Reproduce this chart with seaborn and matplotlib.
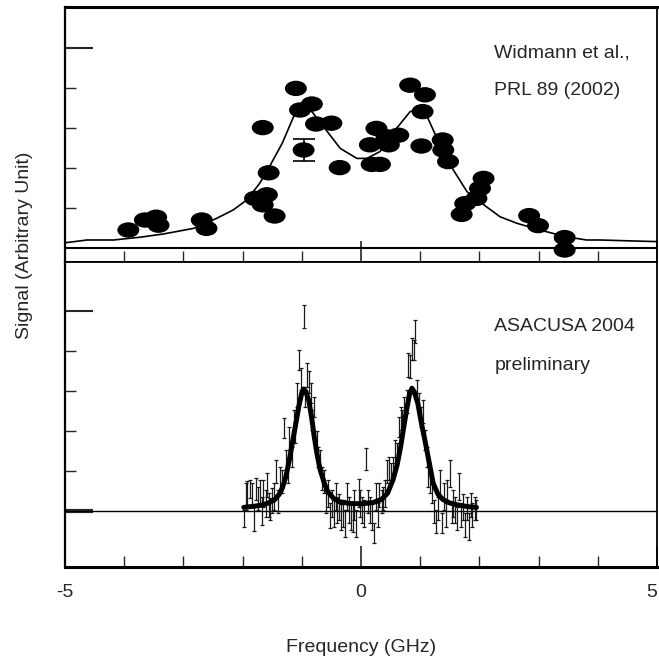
import matplotlib
matplotlib.use("Agg")
import matplotlib.pyplot as plt
from matplotlib.path import Path
from matplotlib.transforms import Affine2D
from matplotlib.ticker import FixedLocator
import seaborn as sns

sns.set_style("ticks")
plt.rcParams["font.family"] = ["Liberation Sans", "DejaVu Sans"]
plt.rcParams["axes.unicode_minus"] = False

# ---- Upper panel: Widmann et al., PRL 89 (2002) ----
prl_freq = [-3.93, -3.65, -3.46, -3.42, -2.69, -2.61, -1.79, -1.59, -1.66, -1.46,
            -1.56, -1.66, -1.10, -1.03, -0.83, -0.76, -0.50, -0.36, -0.97,
            0.26, 0.15, 0.43, 0.47, 0.63, 0.18, 0.32, 0.83, 1.08, 1.04, 1.02,
            1.38, 1.39, 1.47, 2.07, 2.01, 1.95, 1.76, 1.70, 2.84, 2.99, 3.44, 3.44]
prl_signal = [0.45, 0.70, 0.77, 0.57, 0.70, 0.49, 1.24, 1.33, 1.08, 0.80,
              1.88, 3.01, 3.99, 3.45, 3.60, 3.10, 3.12, 2.01, 2.45,
              2.99, 2.58, 2.78, 2.58, 2.82, 2.09, 2.09, 4.07, 3.83, 3.41, 2.55,
              2.70, 2.45, 2.16, 1.74, 1.49, 1.24, 1.11, 0.84, 0.81, 0.56, 0.26, -0.05]

# typical error of the 2002 points
prl_err_freq = [-0.97]
prl_err_signal = [2.45]
prl_err = [0.28]

prl_fit_freq = [-5.0, -4.63, -4.18, -3.73, -3.34, -2.83, -2.44, -2.16, -1.93, -1.71,
                -1.54, -1.33, -1.14, -0.97, -0.83, -0.59, -0.35, -0.07, 0.10, 0.32,
                0.60, 0.83, 0.94, 1.08, 1.22, 1.33, 1.56, 1.79, 2.12, 2.35,
                2.63, 3.02, 3.47, 3.81, 4.04, 4.50, 5.0]
prl_fit_signal = [0.13, 0.20, 0.20, 0.27, 0.35, 0.49, 0.74, 0.95, 1.20, 1.62,
                  2.05, 2.62, 3.28, 3.47, 3.41, 2.95, 2.49, 2.24, 2.24, 2.41,
                  2.99, 3.41, 3.45, 3.41, 2.95, 2.60, 1.95, 1.41, 1.03, 0.78,
                  0.62, 0.45, 0.28, 0.20, 0.20, 0.18, 0.16]

# ---- Lower panel: ASACUSA 2004 (preliminary) ----
asa_freq = [-1.98, -1.95, -1.92, -1.87, -1.84, -1.81, -1.78, -1.74, -1.71, -1.68,
            -1.65, -1.61, -1.59, -1.56, -1.53, -1.50, -1.47, -1.43, -1.40, -1.37,
            -1.34, -1.30, -1.27, -1.24, -1.21, -1.17, -1.14, -1.11, -1.08, -1.04,
            -1.01, -0.97, -0.95, -0.92, -0.88, -0.85, -0.82, -0.79, -0.75, -0.72,
            -0.69, -0.66, -0.62, -0.59, -0.56, -0.53, -0.49, -0.46, -0.43, -0.40,
            -0.37, -0.33, -0.30, -0.27, -0.24, -0.20, -0.17, -0.14, -0.11, -0.08,
            -0.04, -0.01, 0.02, 0.05, 0.09, 0.12, 0.15, 0.18, 0.22, 0.25,
            0.28, 0.31, 0.35, 0.38, 0.41, 0.44, 0.47, 0.51, 0.54, 0.57,
            0.60, 0.64, 0.67, 0.70, 0.73, 0.77, 0.80, 0.83, 0.86, 0.89,
            0.91, 0.95, 0.98, 1.01, 1.04, 1.08, 1.11, 1.14, 1.17, 1.20,
            1.24, 1.27, 1.30, 1.33, 1.37, 1.40, 1.43, 1.46, 1.50, 1.53,
            1.56, 1.59, 1.63, 1.66, 1.69, 1.72, 1.75, 1.79, 1.82, 1.85,
            1.88, 1.92, 1.95]
asa_signal = [-0.18, 0.36, 0.43, 0.55, 0.40, -0.20, 0.55, 0.31, 0.48, 0.00,
              0.44, 0.19, 0.65, 0.15, 0.05, 0.26, 0.36, 0.98, 0.24, 0.82,
              0.73, 2.07, 1.28, 0.94, 1.82, 1.36, 2.28, 1.94, 2.90, 3.78,
              3.30, 4.86, 2.86, 3.40, 3.22, 2.94, 2.28, 2.60, 1.76, 1.36,
              1.28, 0.82, 0.73, 0.24, 0.44, -0.12, 0.19, -0.06, 0.36, 0.02,
              0.10, -0.15, -0.06, -0.31, 0.36, 0.02, -0.15, -0.17, 0.15, -0.31,
              0.46, 0.19, 0.02, -0.06, 1.30, 0.24, 0.02, -0.15, -0.56, 0.36,
              -0.10, 0.40, 0.24, 0.31, 0.44, 0.98, 1.06, 0.94, 1.11, 1.48,
              1.44, 2.11, 2.32, 2.24, 2.57, 2.73, 3.65, 3.61, 4.05, 4.02,
              4.48, 3.03, 2.69, 2.36, 2.49, 1.78, 1.36, 0.86, 0.73, 0.44,
              -0.02, -0.27, 0.06, 0.69, -0.31, 0.36, -0.10, 0.48, 0.94, -0.06,
              0.19, 0.02, -0.19, 0.61, -0.10, 0.10, -0.35, 0.06, -0.39, 0.15,
              -0.10, 0.06, 0.02]
asa_err = [0.21, 0.33, 0.33, 0.23, 0.29, 0.31, 0.27, 0.29, 0.29, 0.35,
           0.33, 0.33, 0.29, 0.29, 0.27, 0.31, 0.33, 0.29, 0.29, 0.29,
           0.29, 0.25, 0.25, 0.25, 0.29, 0.25, 0.25, 0.25, 0.29, 0.25,
           0.27, 0.29, 0.25, 0.29, 0.27, 0.25, 0.25, 0.25, 0.23, 0.25,
           0.25, 0.29, 0.29, 0.29, 0.33, 0.31, 0.33, 0.33, 0.33, 0.33,
           0.33, 0.33, 0.33, 0.33, 0.33, 0.33, 0.33, 0.35, 0.37, 0.33,
           0.35, 0.33, 0.33, 0.33, 0.27, 0.29, 0.33, 0.33, 0.25, 0.33,
           0.29, 0.29, 0.29, 0.29, 0.33, 0.29, 0.29, 0.25, 0.25, 0.29,
           0.25, 0.25, 0.29, 0.29, 0.29, 0.29, 0.29, 0.29, 0.27, 0.25,
           0.29, 0.25, 0.25, 0.25, 0.29, 0.25, 0.25, 0.25, 0.29, 0.25,
           0.29, 0.29, 0.29, 0.33, 0.25, 0.33, 0.29, 0.29, 0.33, 0.25,
           0.33, 0.33, 0.29, 0.33, 0.29, 0.33, 0.29, 0.29, 0.33, 0.29,
           0.29, 0.29, 0.25]

asa_fit_freq = [-1.98, -1.80, -1.66, -1.55, -1.46, -1.38, -1.33, -1.27, -1.21, -1.16,
                -1.11, -1.05, -1.00, -0.97, -0.93, -0.88, -0.83, -0.79, -0.74, -0.69,
                -0.62, -0.56, -0.46, -0.36, -0.20, 0.00, 0.20, 0.35, 0.45, 0.54,
                0.61, 0.67, 0.72, 0.77, 0.82, 0.86, 0.90, 0.96, 1.02, 1.09,
                1.16, 1.22, 1.30, 1.38, 1.50, 1.64, 1.80, 1.95]
asa_fit_signal = [0.09, 0.12, 0.15, 0.21, 0.28, 0.42, 0.57, 0.85, 1.28, 1.70,
                  2.11, 2.62, 2.95, 3.05, 2.98, 2.75, 2.30, 1.86, 1.40, 1.03,
                  0.70, 0.48, 0.31, 0.23, 0.19, 0.18, 0.21, 0.29, 0.45, 0.78,
                  1.15, 1.61, 2.08, 2.53, 2.92, 3.07, 2.98, 2.69, 2.20, 1.69,
                  1.15, 0.69, 0.42, 0.29, 0.20, 0.15, 0.11, 0.09]

x_major = [-5, 0, 5]
x_minor = [-4, -3, -2, -1, 1, 2, 3, 4]
y_minor = [1, 2, 3, 4]

W, H = 659, 661
fig = plt.figure(figsize=(W / 100, H / 100), dpi=100)
left, right = 65 / W, 657 / W
ax_top = fig.add_axes([left, 1 - 262 / H, right - left, (262 - 7) / H])
ax_bot = fig.add_axes([left, 1 - 567 / H, right - left, (567 - 262) / H])

# elliptical marker for the 2002 data
ellipse = Path.unit_circle().transformed(Affine2D().scale(1.0, 0.70))

sns.lineplot(x=prl_fit_freq, y=prl_fit_signal, ax=ax_top, color="black",
             linewidth=1.2, estimator=None, sort=False, zorder=3)
sns.scatterplot(x=prl_freq, y=prl_signal, ax=ax_top, marker=ellipse, s=250,
                color="black", edgecolor="none", linewidth=0, zorder=4)
ax_top.errorbar(prl_err_freq, prl_err_signal, yerr=prl_err, fmt="none",
                ecolor="black", elinewidth=1.2, capsize=8, capthick=1.2, zorder=4)
ax_top.axhline(0, color="black", linewidth=1.5, zorder=2)

ax_bot.errorbar(asa_freq, asa_signal, yerr=asa_err, fmt="none", ecolor="#1a1a1a",
                elinewidth=0.9, capsize=1.3, capthick=0.9, zorder=3)
sns.lineplot(x=asa_fit_freq, y=asa_fit_signal, ax=ax_bot, color="black",
             linewidth=3.6, estimator=None, sort=False, zorder=4)
ax_bot.axhline(0, color="black", linewidth=1.0, zorder=2)

ax_top.set_xlim(-5, 5)
ax_bot.set_xlim(-5, 5)
ax_top.set_ylim(-0.35, 6.025)
ax_bot.set_ylim(-1.4, 6.225)

for ax in (ax_top, ax_bot):
    ax.xaxis.set_major_locator(FixedLocator(x_major))
    ax.xaxis.set_minor_locator(FixedLocator(x_minor))
    ax.yaxis.set_minor_locator(FixedLocator(y_minor))
    ax.tick_params(axis="x", which="major", direction="in", length=15, width=1.2,
                   top=False, labelsize=14, pad=12)
    ax.tick_params(axis="x", which="minor", direction="in", length=8, width=1.0, top=False)
    ax.tick_params(axis="y", which="major", direction="in", length=20, width=1.5,
                   right=False, labelleft=False)
    ax.tick_params(axis="y", which="minor", direction="in", length=8, width=1.0, right=False)
    for side in ("left", "right", "top", "bottom"):
        ax.spines[side].set_visible(True)
        ax.spines[side].set_color("black")
        ax.spines[side].set_linewidth(1.3)
    ax.set_ylabel("")
    ax.set_xlabel("")

ax_top.yaxis.set_major_locator(FixedLocator([5]))
ax_bot.yaxis.set_major_locator(FixedLocator([0, 5]))
ax_bot.yaxis.get_major_ticks()[0].tick1line.set_markeredgewidth(3)
ax_top.tick_params(axis="x", labelbottom=False)
ax_top.spines["top"].set_linewidth(2.2)
ax_bot.spines["bottom"].set_linewidth(2.2)
ax_top.spines["left"].set_linewidth(1.6)
ax_bot.spines["left"].set_linewidth(1.6)
ax_top.set_xticklabels([])
ax_bot.set_xticklabels([str(v) for v in x_major])
# keep the right-hand label inside the figure
ax_bot.get_xticklabels()[-1].set_horizontalalignment("right")
ax_bot.get_xticklabels()[-1].set_x(5.0)

ax_top.text(2.25, 4.75, "Widmann et al.,", fontsize=14, va="baseline", ha="left")
ax_top.text(2.25, 3.83, "PRL 89 (2002)", fontsize=14, va="baseline", ha="left")
ax_bot.text(2.25, 4.50, "ASACUSA 2004", fontsize=14, va="baseline", ha="left")
ax_bot.text(2.25, 3.52, "preliminary", fontsize=14, va="baseline", ha="left")

fig.text(361 / W, 1 - 648 / H, "Frequency (GHz)", fontsize=14, ha="center", va="center")
fig.text(25 / W, 1 - 245 / H, "Signal (Arbitrary Unit)", fontsize=14, rotation=90,
         ha="center", va="center")

fig.savefig("out.png", dpi=100)
